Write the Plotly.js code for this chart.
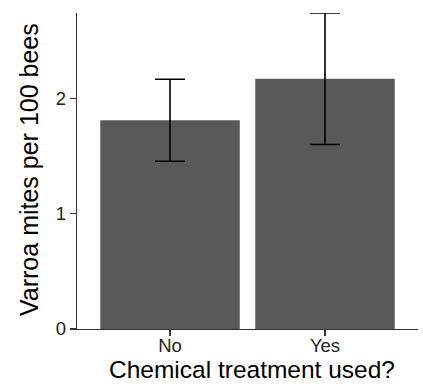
<!DOCTYPE html>
<html>
<head>
<meta charset="utf-8">
<script src="https://cdn.plot.ly/plotly-3.0.1.min.js"></script>
<style>html,body{margin:0;padding:0;background:#fff;}#chart{width:423px;height:387px;}</style>
</head>
<body>
<div id="chart"></div>
<script>
const categories = ["No", "Yes"];
const meanMites = [1.81, 2.17];
const errorMites = [0.355, 0.57];
const yTickVals = [0, 1, 2];
const yTickText = ["0", "1", "2"];
const xTitle = "Chemical treatment used?";
const yTitle = "Varroa mites per 100 bees";

const FONT = "Liberation Sans, Arial, sans-serif";

const trace = {
  type: "bar",
  x: categories,
  y: meanMites,
  width: 0.9,
  marker: {color: "#595959", line: {width: 0}},
  error_y: {type: "data", array: errorMites, visible: true, color: "#000000", thickness: 1.6, width: 15},
  hoverinfo: "none"
};

const layout = {
  width: 423,
  height: 387,
  margin: {l: 77, r: 5, t: 13, b: 58},
  paper_bgcolor: "#ffffff",
  plot_bgcolor: "#ffffff",
  showlegend: false,
  font: {family: FONT, color: "#333333"},
  xaxis: {
    type: "category",
    range: [-0.6, 1.6],
    showline: true,
    linecolor: "#333333",
    linewidth: 1.2,
    ticks: "outside",
    ticklen: 6,
    tickwidth: 1.2,
    tickcolor: "#333333",
    showgrid: false,
    zeroline: false,
    ticklabelstandoff: -6,
    tickfont: {size: 18.5, family: FONT, color: "#222222"}
  },
  yaxis: {
    range: [0, 2.74],
    tickvals: yTickVals,
    ticktext: yTickText,
    showline: true,
    linecolor: "#333333",
    linewidth: 1.2,
    ticks: "outside",
    ticklen: 6,
    tickwidth: 1.2,
    tickcolor: "#333333",
    showgrid: false,
    zeroline: false,
    ticklabelstandoff: 0,
    tickfont: {size: 18.5, family: FONT, color: "#222222"}
  },
  annotations: [
    {text: xTitle, xref: "paper", yref: "paper", x: 0.5, y: 0, xanchor: "center", yanchor: "middle",
     yshift: -40, xshift: 4, showarrow: false, font: {size: 24.5, family: FONT, color: "#000000"}},
    {text: yTitle, xref: "paper", yref: "paper", x: 0, y: 0.5, xanchor: "center", yanchor: "middle",
     xshift: -48, yshift: 1, textangle: -90, showarrow: false, font: {size: 25, family: FONT, color: "#000000"}}
  ]
};

Plotly.newPlot("chart", [trace], layout, {displayModeBar: false, staticPlot: true});
</script>
</body>
</html>
